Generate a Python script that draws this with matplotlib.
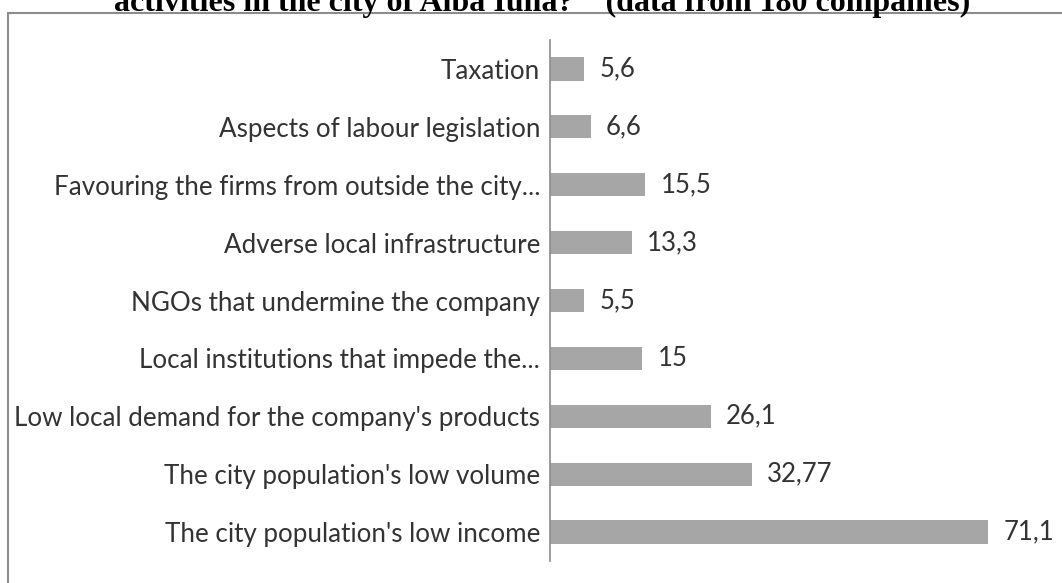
import matplotlib
matplotlib.use('Agg')
import matplotlib.pyplot as plt
from matplotlib.patches import Rectangle

# data (percent of companies)
categories = [
    "Taxation",
    "Aspects of labour legislation",
    "Favouring the firms from outside the city...",
    "Adverse local infrastructure",
    "NGOs that undermine the company",
    "Local institutions that impede the...",
    "Low local demand for the company's products",
    "The city population's low volume",
    "The city population's low income",
]
values = [5.6, 6.6, 15.5, 13.3, 5.5, 15, 26.1, 32.77, 71.1]
title = 'activities in the city of Alba Iulia?\u201d  (data from 180 companies)'

W, H = 1062, 583
fig = plt.figure(figsize=(W / 100, H / 100), dpi=100)

# outer chart frame (right and bottom run off the picture)
fig.patches.append(Rectangle((8 / W, -0.1), 1.2, 1 - 13 / H + 0.1,
                             transform=fig.transFigure, fill=False,
                             edgecolor='#8c8c8c', linewidth=1.5))

# title is cut off at the top edge, like in the source
fig.text(542 / W, 1 - 11 / H, title, ha='center', va='baseline',
         fontsize=23, fontweight='bold', family='Liberation Serif')

ax = fig.add_axes([550 / W, 22 / H, 1 - 550 / W, (561 - 40) / H])
y = list(range(len(categories)))
ax.barh(y, values, height=0.4, color='#a6a6a6')
ax.set_ylim(len(categories) - 0.5, -0.5)
ax.set_xlim(0, (W - 550) / 6.16)

ax.set_yticks(y)
ax.set_yticklabels(categories, family='Lato', fontsize=18.7, color='#333333')
ax.tick_params(axis='y', length=0, pad=7)
ax.set_xticks([])

for yi, v in zip(y, values):
    ax.text(v + 2.5, yi, f"{v:g}".replace('.', ','), va='center', ha='left',
            family='Lato', fontsize=18.5, color='#333333')

for s in ['top', 'right', 'bottom']:
    ax.spines[s].set_visible(False)
ax.spines['left'].set_color('#8c8c8c')
ax.spines['left'].set_linewidth(1.2)

fig.savefig('out.png', dpi=100)
